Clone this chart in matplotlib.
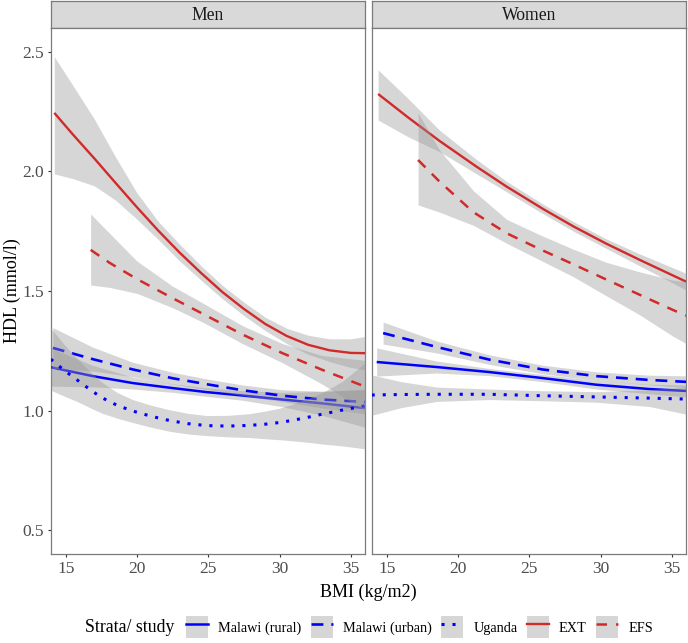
import matplotlib
matplotlib.use("Agg")
import matplotlib.pyplot as plt
from matplotlib.patches import Patch
from matplotlib.lines import Line2D

plt.rcParams['font.family'] = ['Liberation Serif', 'DejaVu Serif']

# ---------------- data ----------------
panels = ["Men", "Women"]
series_names = ["Malawi (rural)", "Malawi (urban)", "Uganda", "EXT", "EFS"]
x_ticks = [15, 20, 25, 30, 35]
y_ticks = [0.5, 1.0, 1.5, 2.0, 2.5]
x_label = "BMI (kg/m2)"
y_label = "HDL (mmol/l)"
legend_title = "Strata/ study"

# Men
men_rural_x = [13.9, 16.9, 19.7, 22.5, 24.9, 27.4, 30.2, 33.0, 36.0]
men_rural_y = [1.182, 1.144, 1.115, 1.094, 1.077, 1.063, 1.046, 1.030, 1.010]
men_rural_lo = [1.102, 1.099, 1.090, 1.076, 1.059, 1.043, 1.016, 0.980, 0.930]
men_rural_hi = [1.262, 1.189, 1.140, 1.112, 1.095, 1.083, 1.076, 1.080, 1.090]

men_urban_x = [14.1, 16.9, 19.7, 22.5, 24.9, 27.4, 30.2, 33.0, 36.0]
men_urban_y = [1.262, 1.215, 1.172, 1.135, 1.110, 1.085, 1.062, 1.046, 1.036]
men_urban_lo = [1.177, 1.165, 1.142, 1.110, 1.088, 1.063, 1.037, 1.011, 0.986]
men_urban_hi = [1.347, 1.265, 1.202, 1.160, 1.132, 1.107, 1.087, 1.081, 1.086]

men_uganda_x = [13.95, 14.9, 15.8, 16.7, 17.5, 18.6, 19.7, 21.0, 22.3, 23.6, 24.9, 26.4,
                27.9, 29.0, 30.0, 31.0, 32.0, 33.0, 34.4, 36.0]
men_uganda_y = [1.215, 1.168, 1.128, 1.088, 1.055, 1.022, 0.998, 0.976, 0.958, 0.945, 0.937,
                0.935, 0.938, 0.943, 0.950, 0.960, 0.972, 0.985, 1.002, 1.020]
men_uganda_lo = [1.085, 1.060, 1.038, 1.012, 0.990, 0.968, 0.950, 0.930, 0.913, 0.902, 0.895,
                 0.890, 0.887, 0.882, 0.878, 0.873, 0.867, 0.860, 0.852, 0.840]
men_uganda_hi = [1.345, 1.276, 1.218, 1.164, 1.120, 1.076, 1.046, 1.022, 1.003, 0.988, 0.979,
                 0.980, 0.987, 0.998, 1.010, 1.028, 1.050, 1.075, 1.122, 1.200]

men_ext_x = [14.2, 15.5, 17.0, 18.5, 20.0, 21.5, 23.0, 24.5, 26.0, 27.5, 29.0, 30.5, 32.0,
             33.5, 35.0, 36.0]
men_ext_y = [2.245, 2.155, 2.055, 1.952, 1.850, 1.752, 1.660, 1.575, 1.495, 1.425, 1.362,
             1.312, 1.275, 1.252, 1.241, 1.240]
men_ext_lo = [1.99, 1.97, 1.94, 1.88, 1.80, 1.715, 1.625, 1.545, 1.467, 1.397, 1.334, 1.28,
              1.235, 1.205, 1.18, 1.17]
men_ext_hi = [2.48, 2.36, 2.22, 2.06, 1.91, 1.79, 1.695, 1.605, 1.523, 1.453, 1.39, 1.344,
              1.315, 1.30, 1.30, 1.31]

men_efs_x = [16.75, 18.1, 20.0, 22.5, 24.6, 27.4, 30.2, 33.0, 36.0]
men_efs_y = [1.672, 1.617, 1.55, 1.47, 1.405, 1.318, 1.24, 1.17, 1.10]
men_efs_lo = [1.525, 1.515, 1.49, 1.43, 1.37, 1.28, 1.20, 1.11, 1.00]
men_efs_hi = [1.822, 1.74, 1.625, 1.52, 1.45, 1.355, 1.28, 1.23, 1.21]

# Women
women_rural_x = [14.3, 18.5, 22.2, 25.9, 29.7, 33.4, 36.0]
women_rural_y = [1.203, 1.182, 1.161, 1.136, 1.108, 1.090, 1.082]
women_rural_lo = [1.144, 1.157, 1.146, 1.121, 1.090, 1.070, 1.057]
women_rural_hi = [1.262, 1.207, 1.176, 1.151, 1.126, 1.110, 1.107]

women_urban_x = [14.75, 18.5, 22.2, 25.9, 29.7, 33.4, 36.0]
women_urban_y = [1.324, 1.266, 1.213, 1.172, 1.144, 1.128, 1.120]
women_urban_lo = [1.278, 1.241, 1.193, 1.154, 1.126, 1.108, 1.095]
women_urban_hi = [1.370, 1.291, 1.233, 1.190, 1.162, 1.148, 1.145]

women_uganda_x = [13.95, 16.0, 18.5, 22.2, 25.9, 29.7, 33.4, 36.0]
women_uganda_y = [1.065, 1.067, 1.068, 1.068, 1.062, 1.057, 1.052, 1.048]
women_uganda_lo = [0.980, 1.012, 1.038, 1.046, 1.041, 1.035, 1.017, 0.985]
women_uganda_hi = [1.149, 1.121, 1.098, 1.090, 1.083, 1.079, 1.087, 1.100]

women_ext_x = [14.4, 16.5, 18.7, 21.3, 23.4, 26.0, 28.1, 30.4, 32.75, 36.0]
women_ext_y = [2.324, 2.226, 2.128, 2.020, 1.937, 1.842, 1.770, 1.698, 1.630, 1.539]
women_ext_lo = [2.215, 2.145, 2.083, 1.990, 1.915, 1.822, 1.750, 1.678, 1.605, 1.504]
women_ext_hi = [2.425, 2.305, 2.173, 2.050, 1.959, 1.862, 1.790, 1.718, 1.655, 1.574]

women_efs_x = [17.2, 18.7, 21.07, 23.4, 25.74, 28.08, 30.4, 32.75, 35.1, 36.0]
women_efs_y = [2.048, 1.958, 1.830, 1.742, 1.675, 1.612, 1.548, 1.484, 1.42, 1.397]
women_efs_lo = [1.86, 1.83, 1.775, 1.70, 1.63, 1.56, 1.48, 1.40, 1.31, 1.28]
women_efs_hi = [2.245, 2.09, 1.92, 1.80, 1.735, 1.675, 1.62, 1.58, 1.545, 1.54]

# ---------------- styles ----------------
BLUE = "#0000FF"
RED = "#D12A2A"
styles = {
    "Malawi (rural)": dict(color=BLUE, linestyle="-", lw=1.8),
    "Malawi (urban)": dict(color=BLUE, linestyle=(0, (4.5, 3)), lw=1.9),
    "Uganda": dict(color=BLUE, linestyle=(0, (1, 2.6)), lw=2.2),
    "EXT": dict(color=RED, linestyle="-", lw=1.7),
    "EFS": dict(color=RED, linestyle=(0, (4.2, 3.6)), lw=1.8),
}

data = {
    "Men": {
        "Malawi (rural)": (men_rural_x, men_rural_y, men_rural_lo, men_rural_hi),
        "Malawi (urban)": (men_urban_x, men_urban_y, men_urban_lo, men_urban_hi),
        "Uganda": (men_uganda_x, men_uganda_y, men_uganda_lo, men_uganda_hi),
        "EXT": (men_ext_x, men_ext_y, men_ext_lo, men_ext_hi),
        "EFS": (men_efs_x, men_efs_y, men_efs_lo, men_efs_hi),
    },
    "Women": {
        "Malawi (rural)": (women_rural_x, women_rural_y, women_rural_lo, women_rural_hi),
        "Malawi (urban)": (women_urban_x, women_urban_y, women_urban_lo, women_urban_hi),
        "Uganda": (women_uganda_x, women_uganda_y, women_uganda_lo, women_uganda_hi),
        "EXT": (women_ext_x, women_ext_y, women_ext_lo, women_ext_hi),
        "EFS": (women_efs_x, women_efs_y, women_efs_lo, women_efs_hi),
    },
}

# ---------------- figure ----------------
W, H = 688, 643
fig = plt.figure(figsize=(W / 100, H / 100), dpi=100)

panel_top = 28
panel_bot = 554
strip_top = 1
lefts = [51, 372]
pw = 314
BORDER = "#7a7a7a"
TICKCOL = "#4D4D4D"

for i, panel in enumerate(panels):
    l = lefts[i]
    ax = fig.add_axes([l / W, 1 - panel_bot / H, pw / W, (panel_bot - panel_top) / H])
    z = 2
    for name in series_names:
        xs, ys, lo, hi = data[panel][name]
        ax.fill_between(xs, lo, hi, color="#999999", alpha=0.4, lw=0, zorder=z)
        st = styles[name]
        ax.plot(xs, ys, color=st["color"], linestyle=st["linestyle"], lw=st["lw"],
                dash_capstyle="butt", solid_capstyle="butt", solid_joinstyle="round",
                zorder=z + 1)
        z += 2
    ax.set_xlim(13.97, 35.99)
    ax.set_ylim(0.40, 2.60)
    ax.set_xticks(x_ticks)
    ax.set_xticklabels([str(v) for v in x_ticks])
    ax.set_yticks(y_ticks)
    ax.set_yticklabels([f"{v:.1f}" for v in y_ticks])
    ax.tick_params(axis="both", length=2.5, width=0.8, color="#333333",
                   labelsize=12.5, labelcolor=TICKCOL, pad=2.5)
    if i == 1:
        ax.tick_params(axis="y", left=False, labelleft=False)
    for sp in ax.spines.values():
        sp.set_color(BORDER)
        sp.set_linewidth(0.9)
    ax.set_zorder(1)

    sax = fig.add_axes([l / W, 1 - panel_top / H, pw / W, (panel_top - strip_top) / H])
    sax.set_facecolor("#D9D9D9")
    sax.set_xticks([])
    sax.set_yticks([])
    for sp in sax.spines.values():
        sp.set_color(BORDER)
        sp.set_linewidth(0.9)
    sax.text(0.5, 0.45, panel, ha="center", va="center", fontsize=12.7,
             color="#1A1A1A", transform=sax.transAxes)

fig.text(368.5 / W, 1 - 592 / H, x_label, ha="center", va="center", fontsize=13)
fig.text(12 / W, 1 - 291 / H, y_label, ha="center", va="center", rotation=90, fontsize=13)

# legend
handles = []
for name in series_names:
    st = styles[name]
    handles.append((Patch(facecolor="#D6D6D6", edgecolor="none"),
                    Line2D([], [], color=st["color"], linestyle=st["linestyle"],
                           lw=st["lw"], dash_capstyle="butt")))
leg_y = 1 - 627 / H
fig.text(85 / W, leg_y, legend_title, ha="left", va="center", fontsize=12.8)
fig.legend(handles, series_names, loc="center left", bbox_to_anchor=(186 / W, leg_y),
           ncol=5, frameon=False, fontsize=10.3, handlelength=1.55, handleheight=1.95,
           handletextpad=0.7, columnspacing=0.65, borderpad=0, borderaxespad=0)

fig.savefig("out.png", dpi=100)
